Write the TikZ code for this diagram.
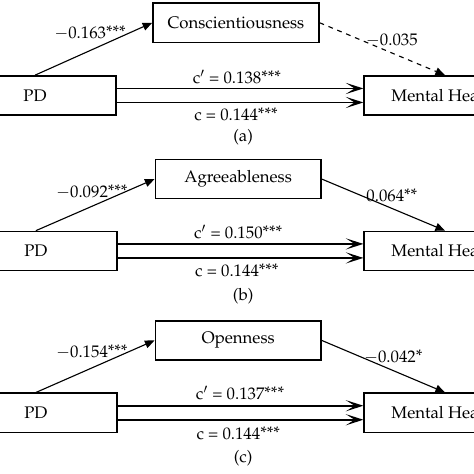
\documentclass[tikz,border=0pt]{standalone}
\usepackage[T1]{fontenc}
\usepackage{mathpazo}
\usepackage{tikz}
\usetikzlibrary{arrows.meta}
\newcommand{\sig}[1]{\raisebox{0.15ex}{#1}}

\begin{document}
\begin{tikzpicture}[
    font=\fontsize{10.5pt}{12pt}\selectfont,
    var/.style={draw, line width=0.9pt, minimum width=3.56cm, minimum height=0.86cm, inner sep=0pt},
    med/.style={var, minimum width=3.65cm},
    apath/.style={line width=0.7pt, -{Triangle[length=6pt,width=5pt]}},
    cpath/.style={line width=1pt, -{Stealth[length=11pt,width=7pt,inset=5.5pt]}},
    lab/.style={inner sep=1pt},
  ]
  \useasboundingbox (0,0) rectangle (10.428,-10.428);
  \clip (0,0) rectangle (10.428,-10.428);

  % (a) conscientiousness
  \node[med] (ma) at (5.19,-0.50) {Conscientiousness};
  \node[var] (pda) at (0.77,-2.10) {PD};
  \node[var] (mha) at (9.79,-2.10) {Mental Health};
  \draw[apath] (pda.north) -- (ma.west);
  \draw[apath,dashed] (ma.east) -- (mha.north);
  \draw[cpath] ([yshift=0.154cm]pda.east) -- ([yshift=0.154cm]mha.west);
  \draw[cpath] ([yshift=-0.154cm]pda.east) -- ([yshift=-0.154cm]mha.west);
  \node[lab] (la1) at (1.98,-0.73) {$-$0.163\sig{***}};
  \node[lab] (la2) at (8.62,-0.88) {$-$0.035};
  \node[lab] (la3) at (5.21,-1.69) {c$'$ = 0.138\sig{***}};
  \node[lab] (la4) at (5.19,-2.51) {c = 0.144\sig{***}};
  \node[lab] (capa) at (5.35,-3.01) {(a)};

  % (b) agreeableness
  \node[med] (mb) at (5.24,-3.94) {Agreeableness};
  \node[var] (pdb) at (0.79,-5.52) {PD};
  \node[var] (mhb) at (9.79,-5.52) {Mental Health};
  \draw[apath] (pdb.north) -- (mb.west);
  \draw[apath] (mb.east) -- (mhb.north);
  \draw[cpath] ([yshift=0.154cm]pdb.east) -- ([yshift=0.154cm]mhb.west);
  \draw[cpath] ([yshift=-0.154cm]pdb.east) -- ([yshift=-0.154cm]mhb.west);
  \node[lab] (lb1) at (2.02,-4.22) {$-$0.092\sig{***}};
  \node[lab] (lb2) at (8.62,-4.29) {0.064\sig{**}};
  \node[lab] (lb3) at (5.24,-5.10) {c$'$ = 0.150\sig{***}};
  \node[lab] (lb4) at (5.21,-5.94) {c = 0.144\sig{***}};
  \node[lab] (capb) at (5.35,-6.51) {(b)};

  % (c) openness
  \node[med] (mc) at (5.24,-7.49) {Openness};
  \node[var] (pdc) at (0.79,-9.08) {PD};
  \node[var] (mhc) at (9.79,-9.08) {Mental Health};
  \draw[apath] (pdc.north) -- (mc.west);
  \draw[apath] (mc.east) -- (mhc.north);
  \draw[cpath] ([yshift=0.154cm]pdc.east) -- ([yshift=0.154cm]mhc.west);
  \draw[cpath] ([yshift=-0.154cm]pdc.east) -- ([yshift=-0.154cm]mhc.west);
  \node[lab] (lc1) at (2.02,-7.74) {$-$0.154\sig{***}};
  \node[lab] (lc2) at (8.65,-7.85) {$-$0.042\sig{*}};
  \node[lab] (lc3) at (5.28,-8.65) {c$'$ = 0.137\sig{***}};
  \node[lab] (lc4) at (5.24,-9.53) {c = 0.144\sig{***}};
  \node[lab] (capc) at (5.35,-10.08) {(c)};
\end{tikzpicture}
\end{document}
